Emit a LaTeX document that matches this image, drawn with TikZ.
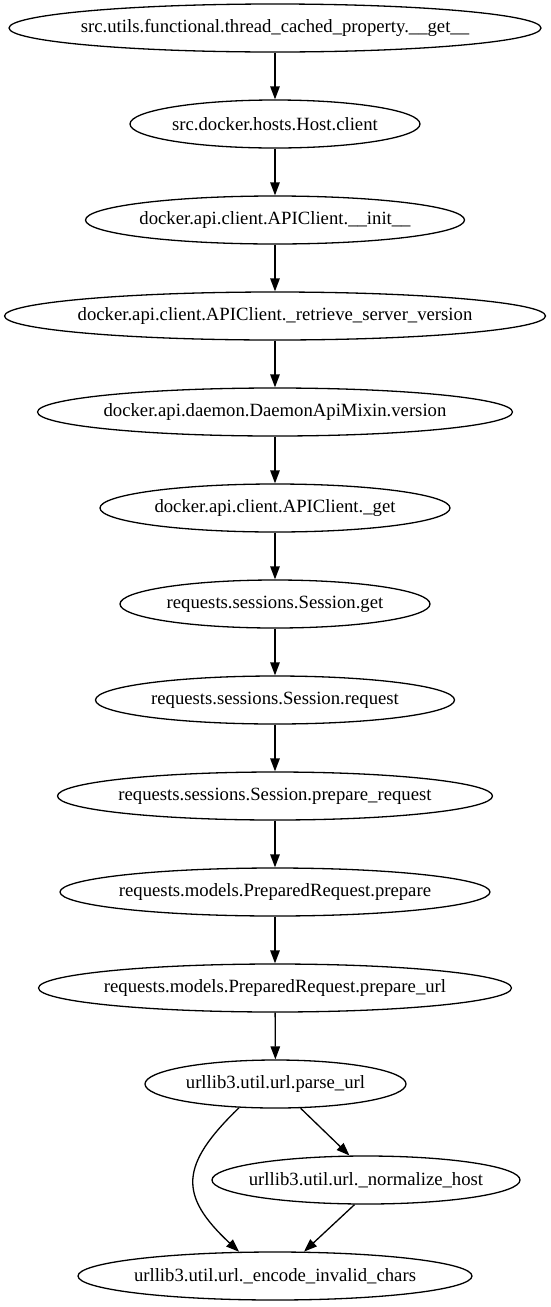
\documentclass[tikz,border=0pt]{standalone}
\usepackage{fontspec}
\setmainfont{Liberation Serif}
\usetikzlibrary{arrows.meta,shapes.geometric}
\newcommand{\fname}[1]{\makebox[0pt]{#1}}

\begin{document}
\begin{tikzpicture}[x=1pt, y=-1pt,
    fn/.style={draw, ellipse, line width=1.3pt, inner sep=0pt, minimum height=48pt,
      font=\fontsize{18.7}{22}\selectfont},
    arr/.style={line width=1.3pt, -{Triangle[length=13pt,width=9.5pt]}}]
    \useasboundingbox (0,0) rectangle (551,1307);
    \node[fn, minimum width=532pt] (get) at (275,28) {\fname{src.utils.functional.thread\_cached\_property.\_\_get\_\_}};
    \node[fn, minimum width=290pt] (client) at (275,124) {\fname{src.docker.hosts.Host.client}};
    \node[fn, minimum width=379pt] (init) at (275,220) {\fname{docker.api.client.APIClient.\_\_init\_\_}};
    \node[fn, minimum width=541pt] (retrieve) at (275,316) {\fname{docker.api.client.APIClient.\_retrieve\_server\_version}};
    \node[fn, minimum width=475pt] (version) at (275,412) {\fname{docker.api.daemon.DaemonApiMixin.version}};
    \node[fn, minimum width=350pt] (apiget) at (275,508) {\fname{docker.api.client.APIClient.\_get}};
    \node[fn, minimum width=310pt] (sessget) at (275,604) {\fname{requests.sessions.Session.get}};
    \node[fn, minimum width=359pt] (request) at (275,700) {\fname{requests.sessions.Session.request}};
    \node[fn, minimum width=435pt] (prepreq) at (275,796) {\fname{requests.sessions.Session.prepare\_request}};
    \node[fn, minimum width=430pt] (prepare) at (275,892) {\fname{requests.models.PreparedRequest.prepare}};
    \node[fn, minimum width=473pt] (prepurl) at (275,988) {\fname{requests.models.PreparedRequest.prepare\_url}};
    \node[fn, minimum width=261pt] (parseurl) at (275.5,1084) {\fname{urllib3.util.url.parse\_url}};
    \node[fn, minimum width=308pt] (normhost) at (366,1180) {\fname{urllib3.util.url.\_normalize\_host}};
    \node[fn, minimum width=394pt] (encode) at (275,1276) {\fname{urllib3.util.url.\_encode\_invalid\_chars}};

    \draw[arr] (get) -- (client);
    \draw[arr] (client) -- (init);
    \draw[arr] (init) -- (retrieve);
    \draw[arr] (retrieve) -- (version);
    \draw[arr] (version) -- (apiget);
    \draw[arr] (apiget) -- (sessget);
    \draw[arr] (sessget) -- (request);
    \draw[arr] (request) -- (prepreq);
    \draw[arr] (prepreq) -- (prepare);
    \draw[arr] (prepare) -- (prepurl);
    \draw[arr] (prepurl) -- (parseurl);
    \draw[arr] (parseurl.213) .. controls (180,1165) and (178,1195) .. (encode.146);
    \draw[arr] (parseurl.316) -- (normhost.124);
    \draw[arr] (normhost.245) -- (encode.40);
\end{tikzpicture}
\end{document}
